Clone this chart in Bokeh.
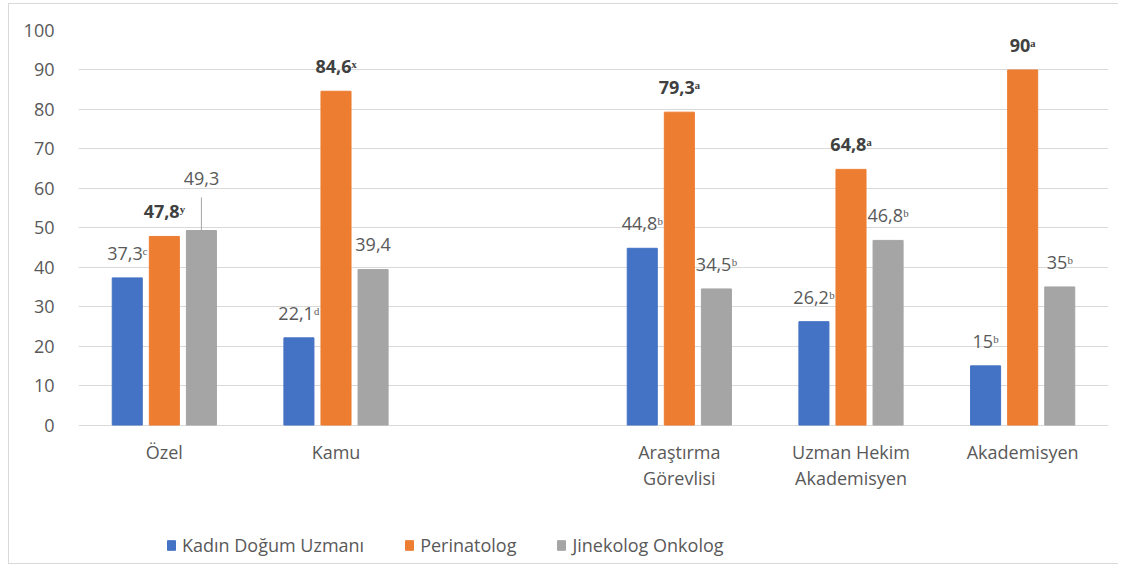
from bokeh.plotting import figure
from bokeh.models import ColumnDataSource, FixedTicker, Legend, LegendItem
from bokeh.core.properties import value
from bokeh.embed import file_html
from bokeh.resources import INLINE

# ---------------- data ----------------
categories = ["Özel", "Kamu", "", "Araştırma\nGörevlisi", "Uzman Hekim\nAkademisyen", "Akademisyen"]
series_names = ["Kadın Doğum Uzmanı", "Perinatolog", "Jinekolog Onkolog"]
kadin_dogum = [37.3, 22.1, None, 44.8, 26.2, 15]
perinatolog = [47.8, 84.6, None, 79.3, 64.8, 90]
jinekolog_onkolog = [49.3, 39.4, None, 34.5, 46.8, 35]
kadin_dogum_sup = ["ᶜ", "ᵈ", None, "ᵇ", "ᵇ", "ᵇ"]
perinatolog_sup = ["ʸ", "ˣ", None, "ᵃ", "ᵃ", "ᵃ"]
jinekolog_onkolog_sup = ["", "", None, "ᵇ", "ᵇ", "ᵇ"]
y_ticks = [0, 10, 20, 30, 40, 50, 60, 70, 80, 90, 100]

# ---------------- style ----------------
colors = ["#4472C4", "#ED7D31", "#A5A5A5"]
offsets = [-0.216, 0.0, 0.216]
bar_width = 0.175
FONT = "Open Sans"
FS = "18px"
TXT = "#595959"
label_lift = -25          # px above bar top
leader = {(2, 0): 27}     # extra px lift for manually moved label (series, cat)
leader_len = 8.4          # data units of leader line
y_bottom = -35.6          # room under the axis for category labels and legend

p = figure(width=1110, height=561, output_backend="svg", toolbar_location=None,
           x_range=(0, len(categories)), y_range=(y_bottom, 100),
           min_border_left=69, min_border_right=11, min_border_top=26, min_border_bottom=0)
p.styles = {"border": "1px solid #d9d9d9", "border-right": "none", "box-sizing": "border-box",
            "margin-left": "8px", "margin-top": "3px"}
p.outline_line_color = None
p.background_fill_color = "white"
p.border_fill_color = "white"

p.xaxis.visible = False
p.xgrid.visible = False
p.ygrid.grid_line_color = "#d9d9d9"
p.ygrid.grid_line_width = 1
p.yaxis.ticker = FixedTicker(ticks=y_ticks)
p.yaxis.axis_line_color = None
p.yaxis.major_tick_line_color = None
p.yaxis.minor_tick_line_color = None
p.yaxis.major_label_standoff = 18
p.yaxis.major_label_text_font = FONT
p.yaxis.major_label_text_font_size = FS
p.yaxis.major_label_text_color = TXT

# category labels under the zero line
cat_x = [i + 0.5 for i, c in enumerate(categories) if c]
cat_t = [c for c in categories if c]
p.text(x=cat_x, y=[0] * len(cat_x), text=cat_t, y_offset=15,
       text_align="center", text_baseline="top", text_line_height=1.1,
       text_font=value(FONT), text_font_size=FS, text_color=TXT)

all_vals = [kadin_dogum, perinatolog, jinekolog_onkolog]
all_sups = [kadin_dogum_sup, perinatolog_sup, jinekolog_onkolog_sup]

def fmt(v):
    return f"{v:g}".replace(".", ",")

items = []
for s, (vals, sups) in enumerate(zip(all_vals, all_sups)):
    xs, tops, labels, lifts = [], [], [], []
    for i, v in enumerate(vals):
        if v is None:
            continue
        xs.append(i + 0.5 + offsets[s])
        tops.append(v)
        labels.append(fmt(v) + (sups[i] or ""))
        lifts.append(label_lift - leader.get((s, i), 0))
        if (s, i) in leader:
            p.segment(x0=[i + 0.5 + offsets[s]], y0=[v], x1=[i + 0.5 + offsets[s]], y1=[v + leader_len],
                      line_color="#a6a6a6", line_width=1)
    src = ColumnDataSource(dict(x=xs, top=tops, label=labels, lift=lifts))
    r = p.vbar(x="x", top="top", width=bar_width, bottom=0, source=src,
               fill_color=colors[s], line_color=colors[s])
    bold = s == 1
    p.text(x="x", y="top", text="label", source=src, y_offset="lift",
           text_align="center", text_baseline="middle",
           text_font=value(FONT), text_font_size=FS,
           text_font_style="bold" if bold else "normal",
           text_color="#404040" if bold else TXT)
    items.append(LegendItem(label=series_names[s], renderers=[r]))

legend = Legend(items=items, orientation="horizontal", location=(88, 8),
                label_text_font=FONT, label_text_font_size=FS, label_text_color=TXT,
                glyph_width=10, glyph_height=12, label_standoff=6, spacing=40,
                border_line_color=None, background_fill_alpha=0, padding=0, margin=0)
p.add_layout(legend, "center")

open("out.html", "w").write(file_html(p, INLINE))
